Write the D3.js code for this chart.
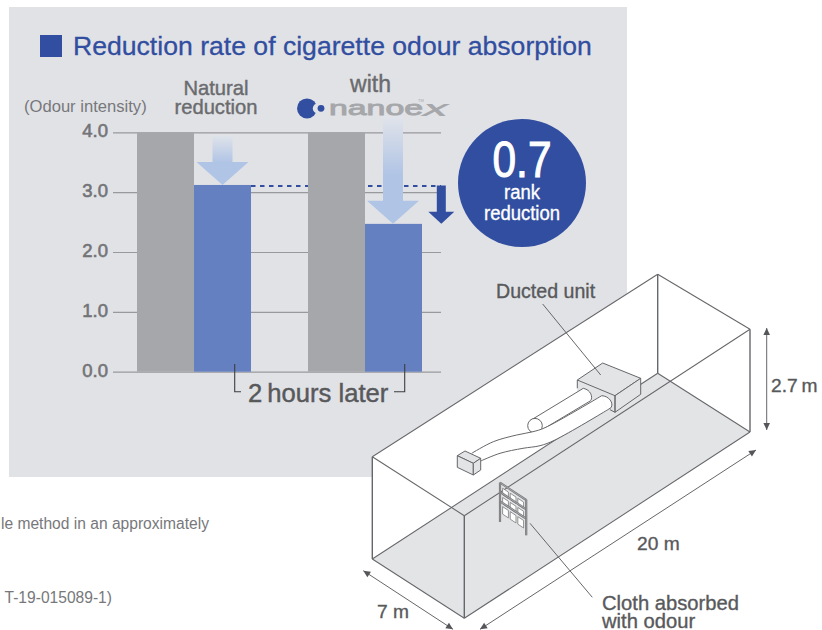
<!DOCTYPE html>
<html><head><meta charset="utf-8">
<script src="https://cdn.jsdelivr.net/npm/d3@7"></script>
<style>
html,body{margin:0;padding:0;background:#fff}
svg{display:block}
text{font-family:"Liberation Sans",Arial,sans-serif}
</style></head><body>
<svg id="c" width="822" height="630"></svg>
<script>
// ---- data ----
const groups = ["natural", "nanoeX"];
const phases = ["before", "after"];
const beforeValues = [4.0, 4.0];
const afterValues = [3.12, 2.47];
const yTickValues = [0, 1, 2, 3, 4];
const rankReduction = "0.7";

const BLUE="#314ea0", BAR="#6480c0", GREY="#a6a7aa", PANEL="#e1e2e6", FLOOR="#e3e4e6", INK="#58595b", LINE="#66676a";
const svg=d3.select("#c");
const defs=svg.append("defs");
const grad=defs.append("linearGradient").attr("id","fade").attr("gradientUnits","objectBoundingBox").attr("x1",0).attr("y1",0).attr("x2",0).attr("y2",1);
grad.append("stop").attr("offset",0).attr("stop-color","#e1e4ea");
grad.append("stop").attr("offset",0.55).attr("stop-color","#b0c4e5");
grad.append("stop").attr("offset",1).attr("stop-color","#b0c4e5");
const poly=(g,pts)=>g.append("polygon").attr("points",pts.map(p=>p.join(",")).join(" "));
const txt=(s,x,y,size,fill,anchor,medium)=>{const t=svg.append("text").attr("x",x).attr("y",y).attr("font-size",size).attr("fill",fill).attr("text-anchor",anchor||"start").text(s);
  if(medium)t.attr("stroke",fill).attr("stroke-width",medium);return t;};

// panel
svg.append("rect").attr("x",9).attr("y",7).attr("width",618).attr("height",470).attr("fill",PANEL);
svg.append("rect").attr("x",40).attr("y",35).attr("width",22).attr("height",22).attr("fill",BLUE);
txt("Reduction rate of cigarette odour absorption",73,55,26.6,BLUE,"start",0.3);

// scales
const y=d3.scaleLinear().domain([0,4]).range([371.7,132.3]);
const x0=d3.scaleBand().domain(groups).range([137,422]).paddingInner(1/3);
const x1=d3.scaleBand().domain(phases).range([0,x0.bandwidth()]);

// axis
const axis=d3.axisLeft(y).tickValues(yTickValues).tickFormat(d3.format(".1f")).tickSize(-328).tickPadding(5);
const ga=svg.append("g").attr("transform","translate(113,0)").call(axis);
ga.select(".domain").remove();
ga.selectAll("line").attr("stroke","#98999c").attr("stroke-width",1.2);
ga.selectAll("text").attr("font-size",18.5).attr("fill","#737477").attr("stroke","#737477").attr("stroke-width",0.6).attr("font-family","Liberation Sans").attr("dy","0.24em");

// dashed comparison line
svg.append("line").attr("x1",x0("natural")+x0.bandwidth()).attr("x2",441).attr("y1",y(afterValues[0])+1).attr("y2",y(afterValues[0])+1)
 .attr("stroke",BLUE).attr("stroke-width",1.9).attr("stroke-dasharray","4.5,4.5");

// bars
groups.forEach((g,i)=>{
  svg.append("rect").attr("x",x0(g)+x1("before")).attr("width",x1.bandwidth()).attr("y",y(beforeValues[i])).attr("height",y(0)-y(beforeValues[i])).attr("fill",GREY);
  svg.append("rect").attr("x",x0(g)+x1("after")).attr("width",x1.bandwidth()).attr("y",y(afterValues[i])).attr("height",y(0)-y(afterValues[i])).attr("fill",BAR);
});

// light arrows to bar tops
const arrowTops=[135,116];
groups.forEach((g,i)=>{
  const cx=x0(g)+x1("after")+x1.bandwidth()/2+(i?-0.5:0), tip=y(afterValues[i]), hb=tip-23;
  svg.append("path").attr("fill","url(#fade)").attr("d",
   `M${cx-10},${arrowTops[i]}H${cx+10}V${hb}H${cx+26}L${cx},${tip}L${cx-26},${hb}H${cx-10}Z`);
});

// dark arrow
{const cx=441.3,t=y(afterValues[0])+0.5,tip=y(afterValues[1]),hb=tip-12;
 svg.append("path").attr("fill",BLUE).attr("d",`M${cx-4.5},${t}H${cx+4.5}V${hb}H${cx+13}L${cx},${tip}L${cx-13},${hb}H${cx-4.5}Z`);}

// badge
svg.append("circle").attr("cx",522).attr("cy",183).attr("r",64).attr("fill",BLUE);
txt(rankReduction,522,176.5,50,"#fff","middle",1.1).attr("textLength",59).attr("lengthAdjust","spacingAndGlyphs");
txt("rank",522,199,20,"#fff","middle",0.35).attr("textLength",36).attr("lengthAdjust","spacingAndGlyphs");
txt("reduction",522,220,20,"#fff","middle",0.35).attr("textLength",76).attr("lengthAdjust","spacingAndGlyphs");

// headers
txt("(Odour intensity)",24,112,16.6,"#77787b");
txt("Natural",216,95,20.2,"#6a6b6e","middle",0.4);
txt("reduction",216,114,20.2,"#6a6b6e","middle",0.4);
txt("with",370.5,92,23,"#6a6b6e","middle",0.4);
// logo
svg.append("circle").attr("cx",307).attr("cy",108.4).attr("r",10).attr("fill",BLUE);
svg.append("circle").attr("cx",318).attr("cy",108.4).attr("r",5.2).attr("fill",PANEL);
svg.append("circle").attr("cx",321).attr("cy",108.3).attr("r",3.4).attr("fill",BLUE);
txt("nanoe",329,115,21,"#a6a7aa","start",0.9).attr("textLength",94).attr("lengthAdjust","spacingAndGlyphs");
txt("X",422,115.5,17,"#a6a7aa").attr("font-weight","bold").attr("font-style","italic").attr("textLength",26).attr("lengthAdjust","spacingAndGlyphs");
txt("TM",418,102,4,"#a6a7aa");

// 2 hours later
txt("2\u2009hours later",248,402,25.6,INK,"start",0.45);
const bracket=svg.append("g").attr("fill","none").attr("stroke","#3d3e40").attr("stroke-width",1.1);
bracket.append("path").attr("d","M234.7,364V391.7H241");
bracket.append("path").attr("d","M404.7,364V391.7H394");

// footnotes, as far as the crop shows them
txt("le method in an approximately",209,529,15.6,"#77787b","end");
txt("T-19-015089-1)",112,603,15.6,"#77787b","end");

// ---- room illustration ----
const P={A:[657.7,274.3],R:[750,329.3],RB:[750,432],F:[464.3,515.7],FB:[464.3,618.3],L:[372.3,456.7],LB:[372.3,559],B:[657.7,373.3]};
poly(svg,[P.A,P.R,P.RB,P.FB,P.LB,P.L]).attr("fill","#fff");
poly(svg,[P.LB,P.FB,P.RB,P.B]).attr("fill",FLOOR);
const room=svg.append("g").attr("stroke",LINE).attr("stroke-width",1.05).attr("fill","none");
[[P.A,P.R],[P.A,P.L],[P.L,P.F],[P.F,P.R],[P.LB,P.FB],[P.FB,P.RB],[P.RB,P.B],[P.B,P.LB]].forEach(s=>room.append("path").attr("d",d3.line()(s)));
[[P.L,P.LB],[P.F,P.FB],[P.R,P.RB],[P.A,P.B]].forEach(s=>room.append("path").attr("d",d3.line()(s)).attr("stroke-width",1.4));

// ducts and units
const eq=svg.append("g").attr("stroke",LINE).attr("stroke-width",1).attr("fill","#fff").attr("stroke-linejoin","round");
const curve=d3.line().curve(d3.curveCatmullRom);
// main unit left face (behind ducts)
poly(eq,[[577.3,380],[615,395.7],[615,412.3],[577.3,392]]).attr("fill",FLOOR).attr("stroke","none");
// upper duct
eq.append("path").attr("d","M530,420.7L583.3,388.3C591,390 593,397 590.7,400.7L541.7,430Z").attr("stroke","none");
eq.append("path").attr("fill","none").attr("d","M530,420.7L583.3,388.3C591,390 593,397 590.7,400.7L541.7,430");
eq.append("circle").attr("cx",535).attr("cy",425.7).attr("r",7.3);
// lower duct
const lowerTop=[[601.7,395.7],[545,427.7],[533,431.7],[516.7,435],[493.3,441.7],[471.7,453.3]];
const lowerBot=[[607.3,410],[555,440],[540,445.7],[523,448.3],[500,453.3],[480.7,461]];
eq.append("path").attr("stroke","none").attr("d",curve(lowerTop)+"L"+lowerBot.slice().reverse().map(p=>p.join(",")).join("L")+"Z");
eq.append("path").attr("fill","#fff").attr("d","M601.7,395.7C609,396 614,403 611,407.7L607.3,410").attr("stroke","none");
eq.append("path").attr("fill","none").attr("d",curve(lowerTop));
eq.append("path").attr("fill","none").attr("d",curve(lowerBot));
eq.append("path").attr("fill","none").attr("d","M601.7,395.7C609,396 614,403 611,407.7L607.3,410");
// main unit edges and faces
poly(eq,[[577.3,380],[602.7,363],[640.7,378.3],[615,395.7]]).attr("fill",FLOOR);
poly(eq,[[615,395.7],[640.7,378.3],[640.7,394.3],[615,412.3]]).attr("fill",FLOOR);
eq.append("path").attr("fill","none").attr("d","M577.3,380V388.3M615,395.7V412.3L610,409.7");
// outdoor box
poly(eq,[[457.3,455.7],[465,451],[480.7,458.3],[473.3,463.3]]).attr("fill",FLOOR);
poly(eq,[[457.3,455.7],[473.3,463.3],[473.3,475],[457.3,467.3]]).attr("fill",FLOOR);
poly(eq,[[473.3,463.3],[480.7,458.3],[480.7,470],[473.3,475]]).attr("fill",FLOOR);

// rack with cloth squares
const rack=svg.append("g");
const rx=d3.scaleLinear().domain([0,1]).range([500,526.2]);
const ry=d3.scaleLinear().domain([0,1]).range([0,17.3]);
[0,1,2].forEach(r=>[0,1,2].forEach(c=>{
  const u0=0.1+c*0.29,u1=u0+0.22,t=486.5+r*9.2,h=r===2?7.5:6.5;
  rack.append("polygon").attr("points",[[rx(u0),t+ry(u0)],[rx(u1),t+ry(u1)],[rx(u1),t+ry(u1)+h],[rx(u0),t+ry(u0)+h]].map(p=>p.join(",")).join(" ")).attr("fill","#fff").attr("stroke","#77787a").attr("stroke-width",0.8);
}));
[482.7,492,501.3].forEach(t=>{
  rack.append("line").attr("x1",500).attr("x2",526.2).attr("y1",t).attr("y2",t+17.3).attr("stroke","#77787b").attr("stroke-width",2.2);
  rack.append("line").attr("x1",500).attr("x2",526.2).attr("y1",t).attr("y2",t+17.3).attr("stroke","#c9cacc").attr("stroke-width",0.6);
});
[[500,482.5,522],[526.2,499.5,535.3]].forEach(d=>{
  rack.append("line").attr("x1",d[0]).attr("x2",d[0]).attr("y1",d[1]).attr("y2",d[2]).attr("stroke","#6f7073").attr("stroke-width",2.2);
  rack.append("line").attr("x1",d[0]).attr("x2",d[0]).attr("y1",d[1]).attr("y2",d[2]).attr("stroke","#b9babc").attr("stroke-width",0.6);
});

// leaders
svg.append("path").attr("d","M542.7,304L600.7,375").attr("stroke",LINE).attr("fill","none");
svg.append("path").attr("d","M530,523.3L592.3,597.3").attr("stroke",LINE).attr("fill","none");

// dimension arrows
function dim(a,b){
  svg.append("path").attr("d",d3.line()([a,b])).attr("stroke",LINE).attr("stroke-width",1).attr("fill","none");
  [[a,b],[b,a]].forEach(([p,q])=>{const ang=Math.atan2(q[1]-p[1],q[0]-p[0]);
    const s=7,w=3.3,ca=Math.cos(ang),sa=Math.sin(ang);
    poly(svg,[p,[p[0]+s*ca-w*sa,p[1]+s*sa+w*ca],[p[0]+s*ca+w*sa,p[1]+s*sa-w*ca]]).attr("fill","#55565a");});
}
dim([766.7,328],[766.7,430]);
dim([480,629.3],[756,450]);
dim([363.3,570.7],[453,629.3]);

txt("Ducted unit",496,298,19.6,INK,"start",0.35);
txt("2.7\u2009m",771,392,19.2,INK,"start",0.35);
txt("20 m",637,550,19.2,INK,"start",0.35);
txt("7 m",377,618,19.2,INK,"start",0.35);
txt("Cloth absorbed",602,610,20.2,INK,"start",0.35);
txt("with odour",602,627.5,20.2,INK,"start",0.35);
</script>
</body></html>
